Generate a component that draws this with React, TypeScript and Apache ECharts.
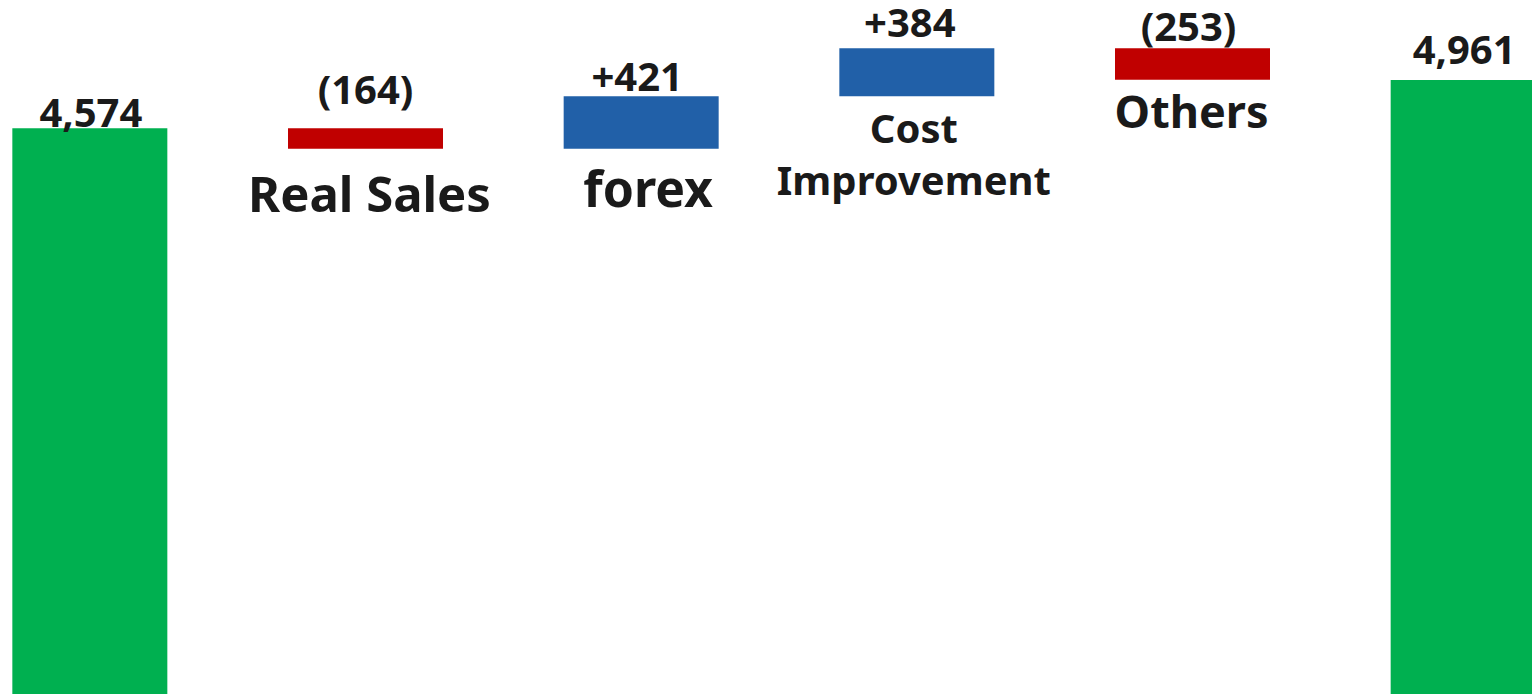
import React, { useEffect, useRef } from "react";
import * as echarts from "echarts";

const categories = ["Start", "Real Sales", "forex", "Cost\nImprovement", "Others", "End"];
const startValue = 4574;
const deltas = [-164, 421, 384, -253];
const endValue = 4961;
const valueLabels = ["4,574", "(164)", "+421", "+384", "(253)", "4,961"];

const GREEN = "#00B050";
const RED = "#C00000";
const BLUE = "#2160A8";
const TEXT = "#1a1a1a";
const FONT = "'Noto Sans', sans-serif";

// per-item label tuning (style only)
const valueLabelDistance = [2, 25, 6, 12, 8, 16];
const valueLabelShiftX = [1, 0, -4, -7, -4, -4];
const catFontSize = [0, 49, 50, 40, 45, 0];
const catDistance = [0, 20, 14, 5, 8, 0];
const catShiftX = [0, 4, 7, -3, -1, 0];

export default function App() {
  const ref = useRef<HTMLDivElement>(null);

  useEffect(() => {
    if (!ref.current) return;
    const chart = echarts.init(ref.current, undefined, { renderer: "svg" });

    const base: number[] = [0];
    const shown: number[] = [startValue];
    let running = startValue;
    deltas.forEach((d) => {
      const next = running + d;
      base.push(Math.min(running, next));
      shown.push(Math.abs(d));
      running = next;
    });
    base.push(0);
    shown.push(endValue);

    const colors = [GREEN, ...deltas.map((d) => (d < 0 ? RED : BLUE)), GREEN];

    const baseData = base.map((v, i) => {
      const isMid = i > 0 && i < categories.length - 1;
      return {
        value: v,
        label: isMid
          ? {
              show: true,
              position: "insideTop",
              distance: catDistance[i],
              offset: [catShiftX[i], 0],
              formatter: categories[i],
              fontSize: catFontSize[i],
              lineHeight: i === 3 ? 52 : catFontSize[i],
              fontWeight: "bold",
              fontFamily: FONT,
              color: TEXT,
            }
          : { show: false },
      };
    });

    const shownData = shown.map((v, i) => ({
      value: v,
      itemStyle: { color: colors[i] },
      label: {
        show: true,
        position: "top",
        distance: valueLabelDistance[i],
        offset: [valueLabelShiftX[i], 0],
        formatter: valueLabels[i],
        fontSize: 40,
        lineHeight: 30,
        fontWeight: "bold",
        fontFamily: FONT,
        color: TEXT,
      },
    }));

    chart.setOption({
      animation: false,
      grid: { left: 0, right: 0, top: 0, bottom: 0 },
      xAxis: {
        type: "category",
        data: categories,
        show: false,
      },
      yAxis: {
        type: "value",
        min: 50,
        max: 5600,
        show: false,
        splitLine: { show: false },
      },
      series: [
        {
          type: "bar",
          stack: "w",
          barWidth: 155,
          itemStyle: { color: "transparent" },
          data: baseData,
          z: 3,
        },
        {
          type: "bar",
          stack: "w",
          barWidth: 155,
          data: shownData,
          z: 2,
        },
      ],
    });

    return () => chart.dispose();
  }, []);

  return (
    <div style={{ position: "fixed", left: 0, top: 0, width: 1532, height: 694, overflow: "hidden", background: "#fff" }}>
      <div
        ref={ref}
        style={{ position: "absolute", left: -48.3, top: 0, width: 1653.6, height: 694 }}
      />
    </div>
  );
}
